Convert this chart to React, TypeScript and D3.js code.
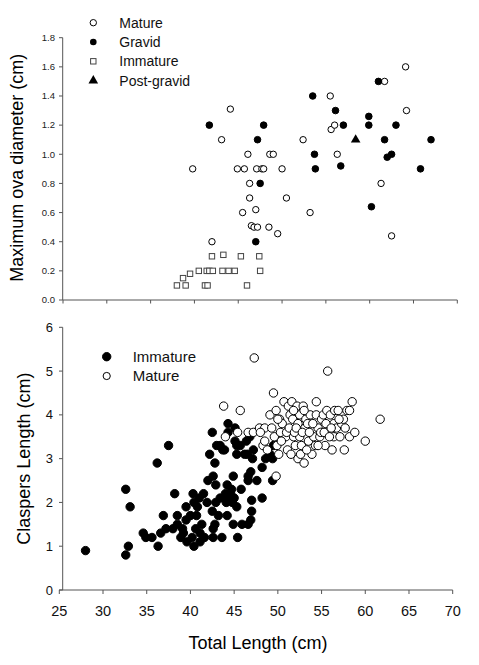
import * as d3 from "d3";

// Top panel: total length (cm) vs maximum ova diameter (cm)
const ovaMature: [number, number][] = [
  [39.8, 0.9], [44.1, 1.31], [43.1, 1.1], [42.0, 0.4], [44.9, 0.9], [45.7, 0.9],
  [46.1, 1.0], [46.3, 0.8], [46.3, 0.7], [45.5, 0.6], [47.0, 0.62], [46.5, 0.51],
  [46.8, 0.5], [47.2, 0.5], [47.1, 0.9], [47.7, 0.9], [47.9, 0.9], [48.6, 1.0],
  [49.0, 1.0], [50.0, 0.9], [48.5, 0.5], [49.5, 0.455], [50.5, 0.7], [52.4, 1.1],
  [53.2, 0.6], [55.5, 1.4], [55.6, 1.17], [56.0, 1.2], [56.3, 1.0], [61.7, 1.5],
  [64.1, 1.6], [64.2, 1.3], [61.3, 0.8], [62.5, 0.44],
];
const ovaGravid: [number, number][] = [
  [41.7, 1.2], [47.2, 1.1], [47.9, 1.2], [47.5, 0.8], [47.0, 0.4], [53.5, 1.4],
  [53.7, 1.0], [53.8, 0.9], [56.1, 1.3], [56.7, 0.92], [57.0, 1.2], [59.9, 1.26],
  [59.9, 1.2], [60.2, 0.64], [61.0, 1.5], [61.7, 1.1], [62.0, 0.98], [62.5, 1.0],
  [63.0, 1.2], [65.8, 0.9], [67.0, 1.1],
];
const ovaImmature: [number, number][] = [
  [38.0, 0.1], [39.0, 0.1], [38.7, 0.15], [39.5, 0.18], [40.5, 0.2], [41.4, 0.2],
  [41.7, 0.2], [42.1, 0.2], [43.2, 0.2], [43.9, 0.2], [44.6, 0.2], [47.5, 0.2],
  [41.2, 0.1], [41.5, 0.1], [42.0, 0.3], [43.3, 0.31], [45.3, 0.3], [47.4, 0.3],
  [46.0, 0.1],
];
const ovaPostGravid: [number, number][] = [[58.4, 1.1]];

// Bottom panel: total length (cm) vs claspers length (cm)
const clasperImmature: [number, number][] = [
  [28.0, 0.9], [32.6, 2.3], [32.6, 0.8], [32.9, 1.0], [33.1, 1.9], [34.6, 1.3],
  [34.9, 1.2], [35.6, 1.2], [36.3, 1.0], [36.2, 2.9], [36.6, 1.3], [36.9, 1.7],
  [37.5, 3.3], [37.2, 1.4], [38.0, 1.4], [38.2, 2.2], [38.5, 1.7], [38.5, 1.5],
  [38.9, 1.2], [39.2, 1.3], [39.5, 1.9], [39.5, 1.6], [39.6, 1.1], [40.0, 1.7],
  [40.3, 2.2], [40.4, 2.0], [40.6, 1.4], [40.4, 1.0], [40.7, 1.7], [41.0, 2.1],
  [41.1, 1.1], [41.5, 2.2], [41.1, 1.3], [41.6, 1.2], [41.9, 2.0], [42.0, 2.5],
  [42.2, 3.1], [42.5, 3.6], [42.5, 1.8], [42.8, 1.5], [42.6, 1.4], [42.6, 1.2],
  [42.8, 2.9], [42.6, 2.6], [42.9, 2.4], [42.9, 2.0], [43.0, 3.3], [43.4, 3.3],
  [43.4, 2.1], [43.6, 1.2], [43.7, 3.2], [43.9, 3.2], [44.2, 1.7], [44.2, 2.4],
  [44.0, 2.2], [44.3, 3.8], [44.3, 3.6], [44.3, 2.1], [44.6, 2.2], [44.8, 2.0],
  [44.9, 2.6], [44.9, 1.5], [45.1, 3.7], [45.1, 3.4], [45.3, 3.1], [45.3, 3.3],
  [45.3, 1.9], [45.4, 1.2], [45.7, 3.3], [45.8, 2.3], [45.9, 1.5], [46.2, 3.1],
  [46.4, 3.4], [46.5, 3.1], [46.6, 2.6], [46.6, 1.5], [46.6, 2.5], [46.8, 3.5],
  [46.9, 1.6], [46.9, 2.7], [47.0, 2.05], [47.0, 1.8], [47.1, 3.0], [47.2, 3.2],
  [47.6, 2.5], [48.2, 2.1], [48.2, 2.8], [48.6, 3.0], [49.1, 3.1], [49.5, 3.3],
  [49.4, 3.0], [49.4, 2.5], [40.2, 1.2], [41.3, 1.5], [43.2, 1.7], [44.7, 2.3],
  [39.1, 1.4], [40.8, 1.9], [44.1, 2.0], [45.0, 2.1],
];
const clasperMature: [number, number][] = [
  [47.3, 5.3], [55.7, 5.0], [43.8, 4.2], [45.7, 4.1], [44.0, 3.5], [45.4, 3.6],
  [46.6, 3.6], [47.2, 3.6], [47.9, 3.7], [48.5, 3.7], [48.3, 3.3], [48.5, 3.4],
  [49.1, 4.0], [49.5, 4.5], [49.8, 4.1], [49.8, 2.6], [50.2, 3.9], [50.1, 3.1],
  [50.7, 4.3], [50.8, 3.7], [50.9, 3.5], [51.1, 3.2], [51.2, 4.2], [51.4, 4.0],
  [51.6, 4.3], [51.7, 3.9], [51.8, 3.5], [52.0, 3.3], [52.2, 4.2], [52.3, 3.0],
  [52.3, 3.8], [52.5, 4.0], [52.5, 3.5], [52.7, 3.3], [52.9, 4.2], [53.0, 2.9],
  [53.1, 3.7], [53.2, 3.9], [53.5, 3.4], [53.7, 4.0], [53.9, 3.1], [54.1, 3.5],
  [54.3, 3.3], [54.4, 4.3], [54.4, 4.0], [54.6, 3.7], [54.8, 3.5], [55.0, 3.9],
  [55.2, 4.0], [55.4, 3.3], [55.6, 4.1], [55.8, 3.7], [56.0, 4.0], [56.2, 3.2],
  [56.4, 3.5], [56.4, 3.8], [56.5, 4.1], [56.7, 3.7], [56.9, 4.1], [57.1, 3.5],
  [57.3, 3.8], [57.5, 3.9], [57.6, 3.2], [57.7, 3.7], [57.9, 4.1], [58.2, 4.1],
  [58.2, 3.5], [58.5, 4.3], [58.8, 3.6], [60.0, 3.4], [61.7, 3.9], [49.3, 3.7],
  [49.6, 3.5], [50.3, 3.6], [50.5, 3.8], [51.0, 3.6], [51.3, 3.7], [51.9, 3.6],
  [52.1, 3.7], [52.8, 3.6], [53.4, 3.8], [53.6, 3.6], [54.0, 3.8], [54.9, 3.6],
  [55.3, 3.6], [55.9, 3.5], [48.8, 3.2], [49.9, 3.3], [50.4, 3.4], [51.5, 3.1],
  [52.6, 3.1], [53.3, 3.2], [54.6, 3.3], [55.5, 3.8], [56.1, 3.7], [57.0, 3.9],
  [53.0, 4.1], [51.8, 4.1], [50.0, 3.9], [48.0, 3.6],
];

const xTicks = [25, 30, 35, 40, 45, 50, 55, 60, 65, 70];
const topYTicks = [0, 0.2, 0.4, 0.6, 0.8, 1.0, 1.2, 1.4, 1.6, 1.8];
const botYTicks = [0, 1, 2, 3, 4, 5, 6];

const topLegend = ["Mature", "Gravid", "Immature", "Post-gravid"];
const botLegend = ["Immature", "Mature"];

const font = "'Liberation Sans', Arial, sans-serif";
const axisColor = "#555";

export default function App() {
  const xTop = d3.scaleLinear().domain([25, 70]).range([63, 457.3]);
  const yTop = d3.scaleLinear().domain([0, 1.8]).range([300, 37.7]);
  const xBot = d3.scaleLinear().domain([25, 70]).range([59.3, 452.7]);
  const yBot = d3.scaleLinear().domain([0, 6]).range([590, 327.3]);
  const tri = d3.symbol(d3.symbolTriangle, 40)() as string;

  const circle = (d: [number, number], i: number, x: any, y: any, r: number, filled: boolean) => (
    <circle key={i} cx={x(d[0])} cy={y(d[1])} r={r}
      fill={filled ? "#000" : "#fff"} stroke="#000" strokeWidth={1} />
  );

  return (
    <svg width={479} height={665} style={{ position: "absolute", left: 0, top: 0, background: "#fff" }}
      fontFamily={font}>
      {/* ---------- top panel ---------- */}
      <line x1={62.7} x2={62.7} y1={yTop(1.8)} y2={yTop(0)} stroke={axisColor} />
      <line x1={62.7} x2={xTop(70)} y1={yTop(0)} y2={yTop(0)} stroke={axisColor} />
      {topYTicks.map(t => (
        <g key={t}>
          <line x1={59} x2={62.7} y1={yTop(t)} y2={yTop(t)} stroke={axisColor} />
          <text x={55} y={yTop(t)} dy="0.35em" textAnchor="end" fontSize={9.5} fill="#222">
            {d3.format(".1f")(t)}
          </text>
        </g>
      ))}
      {xTicks.map(t => (
        <line key={t} x1={xTop(t)} x2={xTop(t)} y1={300} y2={303.5} stroke={axisColor} />
      ))}
      <text transform={`translate(23,${(yTop(0) + yTop(1.8)) / 2 - 1}) rotate(-90)`} textAnchor="middle"
        fontSize={18} fill="#000">Maximum ova diameter (cm)</text>

      {ovaImmature.map((d, i) => (
        <rect key={i} x={xTop(d[0]) - 2.7} y={yTop(d[1]) - 2.7} width={5.4} height={5.4}
          fill="#fff" stroke="#444" strokeWidth={1} />
      ))}
      {ovaMature.map((d, i) => circle(d, i, xTop, yTop, 3.2, false))}
      {ovaGravid.map((d, i) => circle(d, i, xTop, yTop, 3.3, true))}
      {ovaPostGravid.map((d, i) => (
        <path key={i} d={tri} transform={`translate(${xTop(d[0])},${yTop(d[1])})`} fill="#000" />
      ))}

      {/* top legend */}
      {topLegend.map((name, i) => {
        const cy = 22.7 + i * 19.3;
        return (
          <g key={name}>
            {i === 0 && <circle cx={93.3} cy={cy} r={3.2} fill="#fff" stroke="#000" />}
            {i === 1 && <circle cx={93.3} cy={cy} r={3.3} fill="#000" />}
            {i === 2 && <rect x={90.6} y={cy - 2.7} width={5.4} height={5.4} fill="#fff" stroke="#444" />}
            {i === 3 && <path d={tri} transform={`translate(93.3,${cy})`} fill="#000" />}
            <text x={119.3} y={cy} dy="0.36em" fontSize={14} fill="#111">{name}</text>
          </g>
        );
      })}

      {/* ---------- bottom panel ---------- */}
      <line x1={62.7} x2={62.7} y1={yBot(6)} y2={yBot(0)} stroke={axisColor} />
      <line x1={xBot(25)} x2={xBot(70)} y1={yBot(0)} y2={yBot(0)} stroke={axisColor} />
      {botYTicks.map(t => (
        <g key={t}>
          <line x1={59} x2={62.7} y1={yBot(t)} y2={yBot(t)} stroke={axisColor} />
          <text x={53} y={yBot(t)} dy="0.35em" textAnchor="end" fontSize={13} fill="#111">{t}</text>
        </g>
      ))}
      {xTicks.map(t => (
        <g key={t}>
          <line x1={xBot(t)} x2={xBot(t)} y1={590} y2={594} stroke={axisColor} />
          <text x={xBot(t)} y={611} dy="0.35em" textAnchor="middle" fontSize={14.5} fill="#111">{t}</text>
        </g>
      ))}
      <text transform={`translate(30,${(yBot(0) + yBot(6)) / 2}) rotate(-90)`} textAnchor="middle"
        fontSize={18} fill="#000">Claspers Length (cm)</text>
      <text x={(xBot(25) + xBot(70)) / 2 + 2} y={649} textAnchor="middle" fontSize={18} fill="#000">
        Total Length (cm)
      </text>

      {clasperImmature.map((d, i) => circle(d, i, xBot, yBot, 4.2, true))}
      {clasperMature.map((d, i) => circle(d, i, xBot, yBot, 4.2, false))}

      {/* bottom legend */}
      {botLegend.map((name, i) => {
        const cy = 356.7 + i * 19.3;
        return (
          <g key={name}>
            <circle cx={106.7} cy={cy} r={i === 0 ? 4.2 : 3.6} fill={i === 0 ? "#000" : "#fff"} stroke="#000" />
            <text x={132.7} y={cy} dy="0.36em" fontSize={15} fill="#111">{name}</text>
          </g>
        );
      })}
    </svg>
  );
}
